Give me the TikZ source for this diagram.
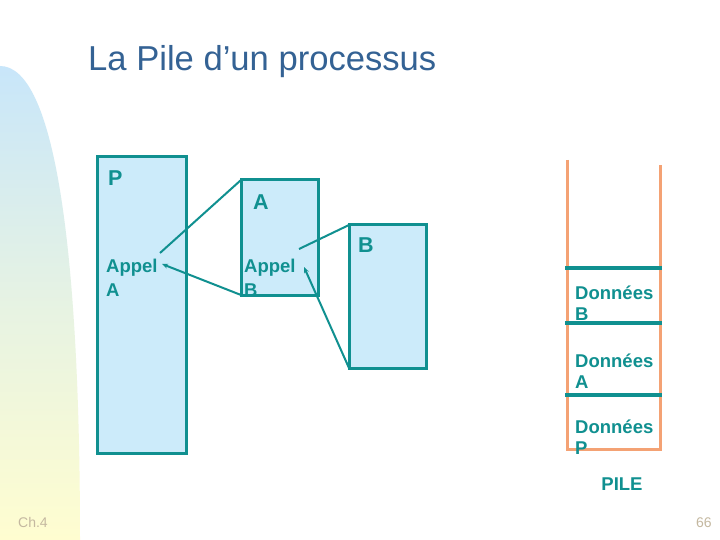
\documentclass[tikz,border=0pt]{standalone}
\usepackage{fontspec}
\setmainfont{Liberation Sans}
\usetikzlibrary{arrows.meta}
\definecolor{teal1}{RGB}{16,144,144}
\definecolor{boxfill}{RGB}{204,235,250}
\definecolor{titleblue}{RGB}{52,98,148}
\definecolor{orange1}{RGB}{244,162,116}
\definecolor{gradtop}{RGB}{200,230,250}
\definecolor{gradbot}{RGB}{255,253,208}
\definecolor{footc}{RGB}{196,184,160}
\tikzset{
  boxst/.style={draw=teal1, fill=boxfill, line width=3bp, inner sep=0, outer sep=0, anchor=north west},
  lbl/.style={inner sep=0, anchor=base west, text=teal1, font=\bfseries\fontsize{18.5bp}{22bp}\selectfont},
  biglbl/.style={inner sep=0, anchor=base west, text=teal1, font=\bfseries\fontsize{21.5bp}{25bp}\selectfont},
  conn/.style={draw=teal1, line width=2bp},
  connarr/.style={draw=teal1, line width=2bp, -{Stealth[length=6bp,width=5bp]}},
  stackside/.style={draw=orange1, line width=3bp},
  stackline/.style={draw=teal1, line width=3.5bp},
  foot/.style={inner sep=0, anchor=base west, text=footc, font=\fontsize{14bp}{16bp}\selectfont}
}
\begin{document}
\begin{tikzpicture}[x=1bp,y=-1bp]
\useasboundingbox (0,0) rectangle (720,540);
\fill[white] (0,0) rectangle (720,540);
% left gradient decoration
\shade[top color=gradtop, bottom color=gradbot, middle color=gradtop!45!gradbot]
  (0,66) .. controls (55,66) and (80,250) .. (80,540) -- (0,540) -- cycle;
% title
\node[inner sep=0, anchor=base west, text=titleblue, font=\fontsize{34.6bp}{40bp}\selectfont] (title) at (88,71) {La Pile d’un processus};
% boxes
\node[boxst, minimum width=89bp, minimum height=296bp] (P) at (97,157) {};
\node[boxst, minimum width=77bp, minimum height=115bp] (A) at (241,180) {};
\node[boxst, minimum width=77bp, minimum height=143bp] (B) at (349,225) {};
% box labels
\node[biglbl] (lP) at (108,186) {P};
\node[biglbl] (lA) at (253,210) {A};
\node[biglbl] (lB) at (358,253) {B};
\node[lbl] (appA1) at (106,273) {Appel};
\node[lbl] (appA2) at (106,296) {A};
\node[lbl] (appB1) at (244,273) {Appel};
\node[lbl] (appB2) at (244,296) {B};
% connectors
\coordinate (pcall) at (160,253);
\coordinate (pret) at (162,264);
\coordinate (acall) at (299,249);
\coordinate (aret) at (304,267);
\draw[conn] (pcall) -- (A.north west);
\draw[connarr] (A.south west) -- (pret);
\draw[conn] (acall) -- (B.north west);
\draw[connarr] (B.south west) -- (aret);
% stack
\coordinate (sl1) at (567,160);
\coordinate (sl2) at (567,449);
\coordinate (sr1) at (660,165);
\coordinate (sr2) at (660,449);
\draw[stackside] (sl1) -- (sl2) -- (sr2) -- (sr1);
\coordinate (t1a) at (565,268); \coordinate (t1b) at (662,268);
\coordinate (t2a) at (565,323); \coordinate (t2b) at (662,323);
\coordinate (t3a) at (565,395); \coordinate (t3b) at (662,395);
\draw[stackline] (t1a) -- (t1b);
\draw[stackline] (t2a) -- (t2b);
\draw[stackline] (t3a) -- (t3b);
\node[lbl] (dB1) at (575,299) {Données};
\node[lbl] (dB2) at (575,320) {B};
\node[lbl] (dA1) at (575,367) {Données};
\node[lbl] (dA2) at (575,388) {A};
\node[lbl] (dP1) at (575,433) {Données};
\node[lbl] (dP2) at (575,454) {P};
\node[lbl, anchor=base] (pile) at (622,490) {PILE};
% footer
\node[foot] (ch) at (18,527) {Ch.4};
\node[foot] (pg) at (696,527) {66};
\end{tikzpicture}
\end{document}
